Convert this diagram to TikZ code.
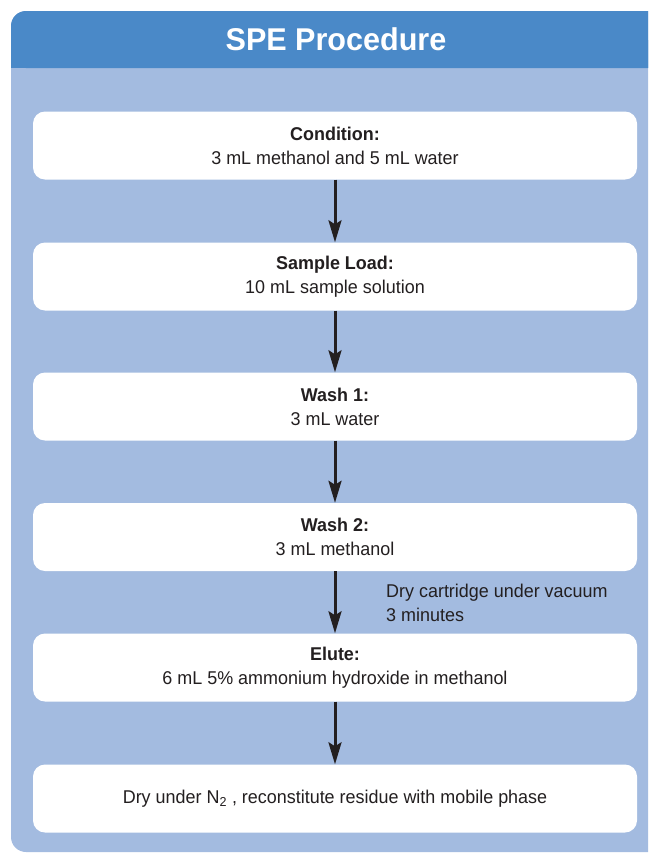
\documentclass[tikz,border=0pt]{standalone}
\usepackage{fontspec}
\setmainfont{Liberation Sans}[FakeStretch=0.97]
\usetikzlibrary{arrows.meta}
\definecolor{headblue}{HTML}{4A89C8}
\definecolor{panelblue}{HTML}{A3BBE0}
\definecolor{ink}{HTML}{231F20}
\begin{document}
\begin{tikzpicture}[x=1pt,y=-1pt,
  stepbox/.style={fill=white, rounded corners=12pt, minimum width=604pt,
    minimum height=68pt, align=center, text=ink, font=\fontsize{18.5}{24}\selectfont,
    inner sep=0pt},
  flow/.style={draw=ink, line width=3pt,
    -{Stealth[length=22pt,width=13pt,inset=4pt]}}]
  \useasboundingbox (0,0) rectangle (648,854);
  \clip (0,0) rectangle (648,854);
  % panel and header band
  \fill[panelblue, rounded corners=15pt] (11,11) rectangle (680,852);
  \fill[headblue, rounded corners=15pt] (11,68) |- (680,11) -- (680,68) -- cycle;
  \fill[headblue] (11,40) rectangle (680,68);
  \node[text=white, font=\fontsize{31.5}{34}\selectfont\bfseries] (title) at (336,39) {SPE Procedure};
  % process steps
  \node[stepbox] (b1) at (335,145.5) {\textbf{Condition:}\\3 mL methanol and 5 mL water};
  \node[stepbox] (b2) at (335,276.5) {\textbf{Sample Load:}\\10 mL sample solution};
  \node[stepbox] (b3) at (335,406.5) {\textbf{Wash 1:}\\3 mL water};
  \node[stepbox] (b4) at (335,537) {\textbf{Wash 2:}\\3 mL methanol};
  \node[stepbox] (b5) at (335,667.5) {\textbf{Elute:}\\6 mL 5\% ammonium hydroxide in methanol};
  \node[stepbox] (b6) at (335,798.5) {Dry under N\textsubscript{2} , reconstitute residue with mobile phase};
  % connectors
  \draw[flow] (b1.south) -- (b2.north);
  \draw[flow] (b2.south) -- (b3.north);
  \draw[flow] (b3.south) -- (b4.north);
  \draw[flow] (b4.south) -- (b5.north);
  \draw[flow] (b5.south) -- (b6.north);
  \node[anchor=north west, align=left, text=ink, inner sep=0pt,
    font=\fontsize{18.5}{24}\selectfont] (note) at (386,584) {Dry cartridge under vacuum\\3 minutes};
\end{tikzpicture}
\end{document}
